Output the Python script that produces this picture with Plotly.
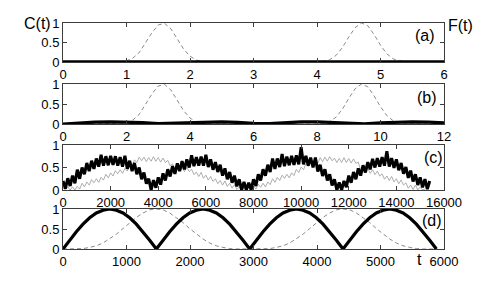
import plotly.graph_objects as go

# ---------------- data ----------------
# panel (a): t in [0, 6]
a_t = [round(0.1 * k, 1) for k in range(61)]
a_F = [0, 0, 0, 0, 0, 0, 0, 0, 0.00, 0.01,
       0.03, 0.10, 0.24, 0.48, 0.75, 0.95, 0.99, 0.85, 0.59, 0.33,
       0.15, 0.05, 0.01, 0.00, 0, 0, 0, 0, 0, 0,
       0, 0, 0, 0, 0, 0, 0, 0, 0, 0.00,
       0.00, 0.02, 0.06, 0.17, 0.37, 0.64, 0.88, 1.00, 0.93, 0.70,
       0.43, 0.21, 0.08, 0.03, 0.01, 0, 0, 0, 0, 0, 0]
a_C = [0] * 61

# panel (b): t in [0, 12]
b_t = [round(0.2 * k, 1) for k in range(61)]
b_F = [0, 0, 0, 0, 0, 0, 0, 0, 0.00, 0.01,
       0.03, 0.10, 0.24, 0.48, 0.75, 0.95, 0.99, 0.85, 0.59, 0.33,
       0.15, 0.05, 0.01, 0.00, 0, 0, 0, 0, 0, 0,
       0, 0, 0, 0, 0, 0, 0, 0, 0, 0.00,
       0.00, 0.02, 0.06, 0.17, 0.37, 0.64, 0.88, 1.00, 0.93, 0.70,
       0.43, 0.21, 0.08, 0.03, 0.01, 0, 0, 0, 0, 0, 0]
b_tc = [0.5 * k for k in range(25)]
b_C = [0, 0.026, 0.046, 0.055, 0.05, 0.033, 0.008, 0.019, 0.042, 0.054,
       0.053, 0.039, 0.015, 0.012, 0.036, 0.052, 0.054, 0.044, 0.023, 0.004,
       0.03, 0.048, 0.055, 0.048, 0.03]

# panel (c): t in [0, 16000]
c_t = list(range(0, 15500, 100))
c_C = [0.20, 0.03, 0.26, 0.09, 0.32, 0.15, 0.45, 0.25, 0.50, 0.35,
       0.60, 0.42, 0.65, 0.47, 0.70, 0.52, 0.78, 0.54, 0.75, 0.55,
       0.76, 0.56, 0.75, 0.54, 0.73, 0.52, 0.76, 0.47, 0.65, 0.42,
       0.60, 0.35, 0.50, 0.24, 0.39, 0.14, 0.25, 0.00, 0.22, 0.05,
       0.28, 0.12, 0.37, 0.21, 0.46, 0.30, 0.53, 0.36, 0.59, 0.42,
       0.64, 0.46, 0.68, 0.50, 0.77, 0.53, 0.73, 0.54, 0.74, 0.54,
       0.78, 0.51, 0.68, 0.45, 0.62, 0.40, 0.56, 0.32, 0.48, 0.24,
       0.40, 0.16, 0.32, 0.08, 0.24, 0.00, 0.18, 0.00, 0.16, 0.00,
       0.24, 0.09, 0.35, 0.21, 0.46, 0.32, 0.56, 0.40, 0.70, 0.47,
       0.70, 0.51, 0.80, 0.53, 0.74, 0.55, 0.76, 0.56, 0.77, 0.57,
       0.95, 0.57, 0.76, 0.54, 0.72, 0.50, 0.72, 0.41, 0.56, 0.31,
       0.46, 0.21, 0.35, 0.10, 0.24, 0.00, 0.17, 0.00, 0.20, 0.06,
       0.32, 0.16, 0.40, 0.24, 0.48, 0.32, 0.55, 0.39, 0.62, 0.46,
       0.69, 0.50, 0.71, 0.52, 0.73, 0.54, 0.86, 0.52, 0.71, 0.49,
       0.68, 0.44, 0.60, 0.36, 0.51, 0.27, 0.43, 0.19, 0.35, 0.11,
       0.28, 0.06, 0.24, 0.02, 0.20]
c_tf = list(range(0, 15300, 100))
c_F = [0.05, 0.00, 0.07, 0.00, 0.07, 0.00, 0.08, 0.02, 0.15, 0.07,
       0.18, 0.11, 0.23, 0.16, 0.25, 0.17, 0.28, 0.22, 0.35, 0.27,
       0.38, 0.31, 0.43, 0.36, 0.45, 0.37, 0.48, 0.42, 0.56, 0.51,
       0.67, 0.61, 0.73, 0.65, 0.73, 0.63, 0.72, 0.64, 0.74, 0.64,
       0.72, 0.62, 0.71, 0.61, 0.66, 0.54, 0.58, 0.45, 0.53, 0.42,
       0.50, 0.41, 0.50, 0.41, 0.46, 0.34, 0.40, 0.30, 0.39, 0.26,
       0.33, 0.22, 0.30, 0.19, 0.25, 0.14, 0.21, 0.11, 0.20, 0.08,
       0.15, 0.04, 0.12, 0.01, 0.07, 0.00, 0.04, 0.00, 0.08, 0.00,
       0.09, 0.02, 0.13, 0.06, 0.15, 0.07, 0.18, 0.12, 0.25, 0.17,
       0.28, 0.21, 0.33, 0.26, 0.35, 0.27, 0.38, 0.32, 0.46, 0.39,
       0.51, 0.45, 0.58, 0.52, 0.62, 0.55, 0.66, 0.60, 0.72, 0.63,
       0.73, 0.64, 0.74, 0.65, 0.71, 0.61, 0.70, 0.61, 0.72, 0.61,
       0.70, 0.60, 0.69, 0.59, 0.62, 0.44, 0.48, 0.38, 0.48, 0.37,
       0.45, 0.34, 0.42, 0.31, 0.36, 0.24, 0.31, 0.21, 0.30, 0.18,
       0.25, 0.14, 0.22, 0.11, 0.16, 0.04, 0.11, 0.01, 0.11, 0.00,
       0.07, 0.00, 0.02]

# panel (d): t in [0, 6000]
d_t = list(range(0, 5881, 105))
d_C = [0, 0.22, 0.43, 0.62, 0.78, 0.90, 0.97, 1.00, 0.97, 0.90, 0.78, 0.62, 0.43, 0.22,
       0, 0.22, 0.43, 0.62, 0.78, 0.90, 0.97, 1.00, 0.97, 0.90, 0.78, 0.62, 0.43, 0.22,
       0, 0.22, 0.43, 0.62, 0.78, 0.90, 0.97, 1.00, 0.97, 0.90, 0.78, 0.62, 0.43, 0.22,
       0, 0.22, 0.43, 0.62, 0.78, 0.90, 0.97, 1.00, 0.97, 0.90, 0.78, 0.62, 0.43, 0.22, 0]
d_F = [0, 0.00, 0.00, 0.01, 0.04, 0.08, 0.15, 0.25, 0.37, 0.51, 0.66, 0.79, 0.90, 0.98,
       1.00, 0.98, 0.90, 0.79, 0.66, 0.51, 0.37, 0.25, 0.15, 0.08, 0.04, 0.01, 0.00, 0.00,
       0, 0.00, 0.00, 0.01, 0.04, 0.08, 0.15, 0.25, 0.37, 0.51, 0.66, 0.79, 0.90, 0.98,
       1.00, 0.98, 0.90, 0.79, 0.66, 0.51, 0.37, 0.25, 0.15, 0.08, 0.04, 0.01, 0.00, 0.00, 0]

x_ranges = [[0, 6], [0, 12], [0, 16000], [0, 6000]]
x_dticks = [1, 2, 2000, 1000]
y_ticks = [0, 0.5, 1]
y_ticktext = ["0", "0.5", "1"]
panel_labels = ["(a)", "(b)", "(c)", "(d)"]

# ---------------- figure ----------------
W, H = 491, 284
OFF = 8  # page body margin offset of the figure div
X0, X1 = 63, 444
panels_px = [(23, 62), (84, 124), (145, 190), (209, 249)]


def px_x(v):
    return (v - OFF) / W


def px_y(v):
    return 1 - (v - OFF) / H


FONT = "Liberation Sans, Arial, Helvetica, sans-serif"
FRAME = "#3c3c3c"
GRAY = "#8a8a8a"

fig = go.Figure()

series = [
    [(a_t, a_F, "F"), (a_t, a_C, "C")],
    [(b_t, b_F, "F"), (b_tc, b_C, "C")],
    [(c_tf, c_F, "Fn"), (c_t, c_C, "Cn")],
    [(d_t, d_F, "F"), (d_t, d_C, "C")],
]

for i, group in enumerate(series):
    xa = "x" if i == 0 else f"x{i+1}"
    ya = "y" if i == 0 else f"y{i+1}"
    for xs, ys, kind in group:
        if kind == "F":
            line = dict(color=GRAY, width=1, dash="4px,3px")
        elif kind == "Fn":
            line = dict(color="#999999", width=0.8)
        elif kind == "Cn":
            line = dict(color="black", width=3.0)
        else:
            line = dict(color="black", width=3.2 if i != 0 else 3.5)
        fig.add_trace(go.Scatter(x=xs, y=ys, mode="lines", line=line,
                                 xaxis=xa, yaxis=ya, showlegend=False,
                                 hoverinfo="skip"))

layout = dict(
    template="none",
    width=W, height=H, autosize=False,
    margin=dict(l=0, r=0, t=0, b=0, pad=0),
    paper_bgcolor="white", plot_bgcolor="white",
    showlegend=False,
    font=dict(family=FONT, size=13, color="black"),
)

axis_common = dict(showline=True, linecolor=FRAME, linewidth=1, mirror="ticks",
                   ticks="inside", ticklen=4, tickcolor=FRAME, tickwidth=1,
                   showgrid=False, zeroline=False, automargin=False,
                   tickfont=dict(family=FONT, size=13, color="black"))

for i, (top, bot) in enumerate(panels_px):
    sfx = "" if i == 0 else str(i + 1)
    layout["xaxis" + sfx] = dict(axis_common, domain=[px_x(X0), px_x(X1)],
                                 range=x_ranges[i], dtick=x_dticks[i], tick0=0,
                                 tickformat="d", anchor="y" + sfx)
    layout["yaxis" + sfx] = dict(axis_common, domain=[px_y(bot), px_y(top)],
                                 range=[0, 1], tickvals=y_ticks, ticktext=y_ticktext,
                                 anchor="x" + sfx)

fig.update_layout(**layout)

annotations = [
    dict(text="C(t)", x=px_x(37), y=px_y(23)),
    dict(text="F(t)", x=px_x(460), y=px_y(25)),
    dict(text="t", x=px_x(419), y=px_y(259)),
]
label_pos = [(425, 36), (427, 97), (433, 157), (432, 220)]
for lab, (px, py) in zip(panel_labels, label_pos):
    annotations.append(dict(text=lab, x=px_x(px), y=px_y(py)))

for a in annotations:
    fig.add_annotation(xref="paper", yref="paper", showarrow=False,
                       xanchor="center", yanchor="middle",
                       font=dict(family=FONT, size=16, color="black"), **a)

fig.write_html("out.html")
